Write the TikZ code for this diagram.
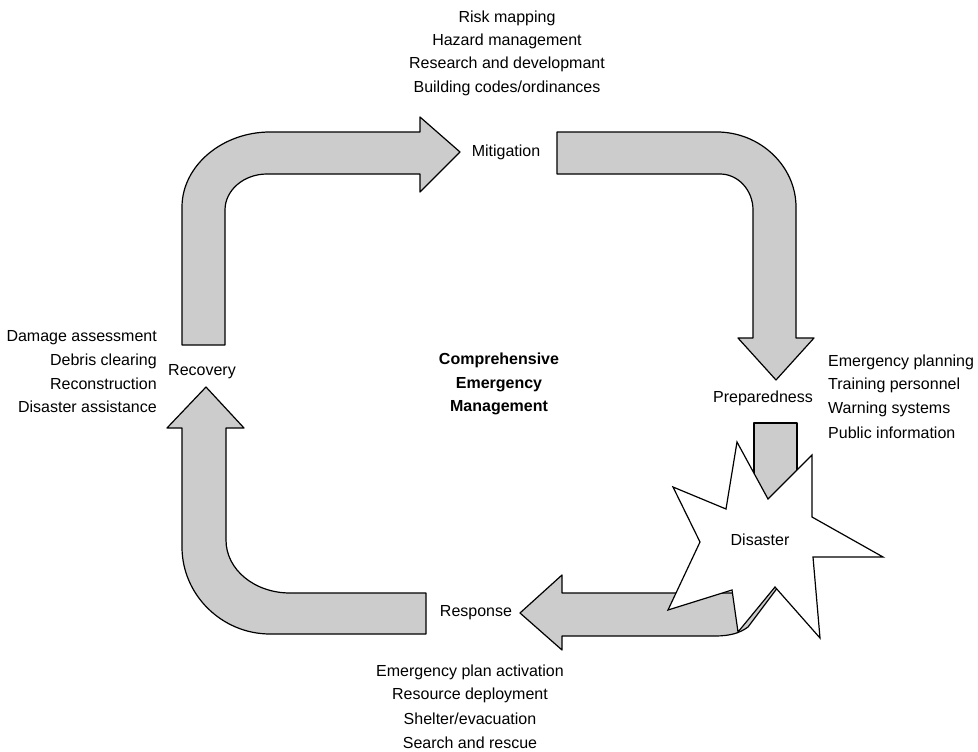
\documentclass[tikz,border=0pt]{standalone}
\usepackage{fontspec}
\setmainfont{Liberation Sans}
\tikzset{
  band/.style={draw=black, line width=1.2pt, fill=black!20, line join=round},
  item/.style={font=\fontsize{16}{19}\selectfont, inner sep=0pt},
  stage/.style={font=\fontsize{16}{19}\selectfont, inner sep=1pt}
}
\begin{document}
\begin{tikzpicture}[x=1pt, y=-1pt]
% --- 枠 ---
\useasboundingbox (0,0) rectangle (978,752);
\fill[white] (0,0) rectangle (978,752);

% --- 矢印（Recovery → Mitigation）---
\draw[band] (182,345) -- (182,207) .. controls (182,166) and (222,132) .. (270,132)
  -- (420,132) -- (420,117) -- (460,152) -- (420,192) -- (420,174) -- (267,174)
  .. controls (244,174) and (225,190) .. (225,210) -- (225,345) -- cycle;

% --- 矢印（Mitigation → Preparedness）---
\draw[band] (557,132) -- (717,132) .. controls (760,132) and (796,166) .. (796,207)
  -- (796,338) -- (814,338) -- (776,380) -- (738,338) -- (753,338) -- (753,210)
  .. controls (753,190) and (738,174) .. (720,174) -- (557,174) -- cycle;

% --- 矢印（Preparedness → Disaster）---
\draw[band] (754,530) -- (754,423) -- (797,423) -- (797,530);

% --- 矢印（Disaster → Response）---
\draw[band] (562,593) -- (562,575) -- (520,613) -- (562,650) -- (562,636) -- (715,636)
  .. controls (730,636) and (740,633) .. (748,627) -- (778,587) -- (760,570) -- (745,593) -- cycle;

% --- 矢印（Response → Recovery）---
\draw[band] (426,593) -- (290,593) .. controls (255,593) and (226,570) .. (226,540)
  -- (226,428) -- (244,428) -- (206,387) -- (167,428) -- (182,428) -- (182,547)
  .. controls (182,595) and (222,634) .. (270,634) -- (426,634) -- cycle;

% --- 星形（Disaster）---
\draw[line width=1.2pt, fill=white, line join=miter]
  (737,442) -- (768,499) -- (812,455) -- (812,517) -- (883,557) -- (813,557)
  -- (820,638) -- (775,587) -- (738,632) -- (732,590) -- (668,610) -- (700,542)
  -- (673,487) -- (726,509) -- cycle;

% --- 各段階のラベル ---
\node[stage] (mit)  at (506,152) {Mitigation};
\node[stage] (prep) at (763,398) {Preparedness};
\node[stage] (dis)  at (760,540) {Disaster};
\node[stage] (resp) at (476,613) {Response};
\node[stage] (rec)  at (202,372) {Recovery};
\node[font=\bfseries\fontsize{16}{23.8}\selectfont, align=center] (cem) at (499,384)
  {Comprehensive\\Emergency\\Management};

% --- 活動の一覧 ---
\foreach \t [count=\i] in {Risk mapping, Hazard management, Research and developmant, Building codes/ordinances} {
    \node[item] (mitItem\i) at (507, {18+23.3*(\i-1)}) {\t};
}
\foreach \t [count=\i] in {Emergency planning, Training personnel, Warning systems, Public information} {
    \node[item, anchor=west] (prepItem\i) at (828, {362+23.5*(\i-1)}) {\t};
}
\foreach \t [count=\i] in {Emergency plan activation, Resource deployment, Shelter/evacuation, Search and rescue} {
    \node[item] (respItem\i) at (470, {672+23.5*(\i-1)}) {\t};
}
\foreach \t [count=\i] in {Damage assessment, Debris clearing, Reconstruction, Disaster assistance} {
    \node[item, anchor=east] (recItem\i) at (157, {338+23*(\i-1)}) {\t};
}

\end{tikzpicture}
\end{document}
